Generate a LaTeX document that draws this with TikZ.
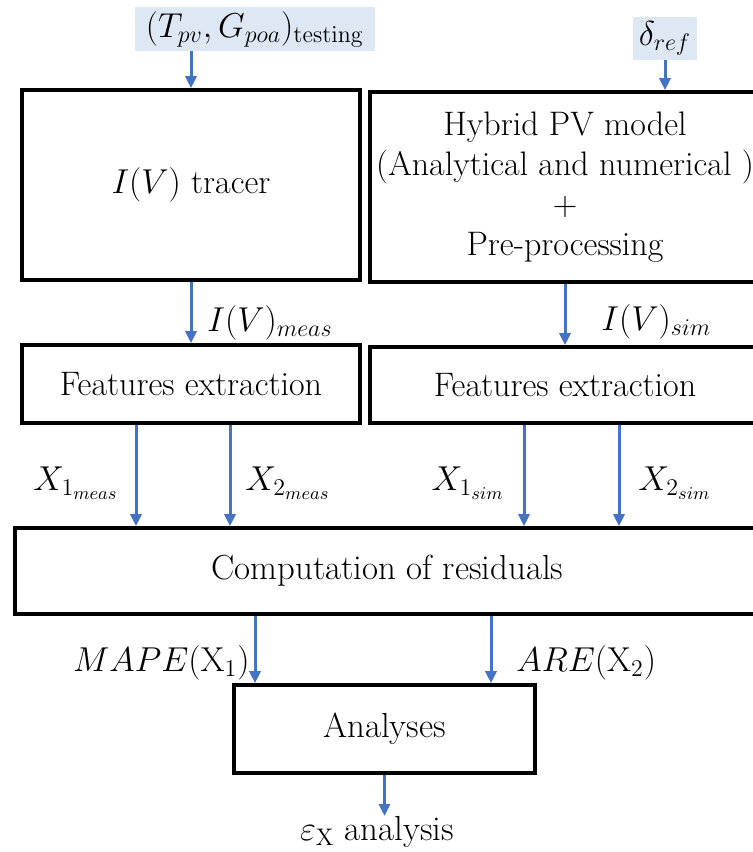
\documentclass[tikz,border=0pt]{standalone}
\usetikzlibrary{arrows.meta}
\definecolor{flowblue}{HTML}{4472C4}
\definecolor{tagblue}{HTML}{DEE8F5}

\begin{document}
\begin{tikzpicture}[x=0.5pt,y=-0.5pt,>={Triangle[length=6pt,width=5.5pt]},
    box/.style={draw,line width=1.8pt,align=center,inner sep=0pt,
        font=\fontsize{17}{20}\selectfont},
    flow/.style={->,draw=flowblue,line width=1.5pt},
    tag/.style={fill=tagblue,inner sep=2pt,font=\fontsize{18}{20}\selectfont},
    lab/.style={inner sep=0pt,font=\fontsize{18}{20}\selectfont}]

\useasboundingbox (0,0) rectangle (752,852);

% inputs
\node[tag,minimum width=120pt,minimum height=21pt] (testing) at (255,29) {$(T_{pv},G_{poa})_{\mathrm{testing}}$};
\node[tag,minimum width=32pt,minimum height=21.5pt] (dref) at (665,38) {$\delta_{ref}$};

% boxes
\node[box,minimum width=169pt,minimum height=95pt] (tracer) at (191,185) {$I(V)$ tracer};
\node[box,minimum width=195pt,minimum height=95pt] (hybrid) at (565,187) {Hybrid PV model\\(Analytical and numerical )\\+\\Pre-processing};
\node[box,minimum width=169pt,minimum height=39pt] (featM) at (191,384) {Features extraction};
\node[box,minimum width=195pt,minimum height=38pt] (featS) at (565,385) {Features extraction};
\node[box,minimum width=372.5pt,minimum height=43pt,font=\fontsize{17.4}{20}\selectfont] (resid) at (387.5,571) {Computation of residuals};
\node[box,minimum width=150.5pt,minimum height=44pt,font=\fontsize{17.4}{20}\selectfont] (analy) at (384.5,729) {Analyses};
\node[lab,font=\fontsize{17.4}{20}\selectfont] (result) at (377,832) {$\varepsilon_{\mathrm{X}}$ analysis};

% arrows
\draw[flow] (testing.south -| tracer.north) -- (tracer.north);
\draw[flow] (dref.south) -- (dref.south |- hybrid.north);
\draw[flow] (tracer) -- (featM);
\draw[flow] (hybrid) -- (featS);
\foreach \dx in {-27.5,19.5}
    \draw[flow] ([xshift=\dx pt]featM.south) -- ([xshift=\dx pt]featM.south |- resid.north);
\foreach \dx in {-20.5,27}
    \draw[flow] ([xshift=\dx pt]featS.south) -- ([xshift=\dx pt]featS.south |- resid.north);
\foreach \dx in {-64.75,53.25}
    \draw[flow] ([xshift=\dx pt]analy.north |- resid.south) -- ([xshift=\dx pt]analy.north);
\draw[flow] (analy.south) -- (analy.south |- result.north);

% labels
\node[lab,anchor=west] (ivM) at (207,323) {$I(V)_{meas}$};
\node[lab,anchor=west] (ivS) at (601,322) {$I(V)_{sim}$};
\node[lab,anchor=east] (x1M) at (119,483) {$X_{1_{meas}}$};
\node[lab,anchor=west] (x2M) at (245,483) {$X_{2_{meas}}$};
\node[lab,anchor=east] (x1S) at (505,483) {$X_{1_{sim}}$};
\node[lab,anchor=west] (x2S) at (638,483) {$X_{2_{sim}}$};
\node[lab,anchor=east] (mape) at (250,663) {$MAPE(\mathrm{X}_1)$};
\node[lab,anchor=west] (are) at (516,663) {$ARE(\mathrm{X}_2)$};

\end{tikzpicture}
\end{document}
